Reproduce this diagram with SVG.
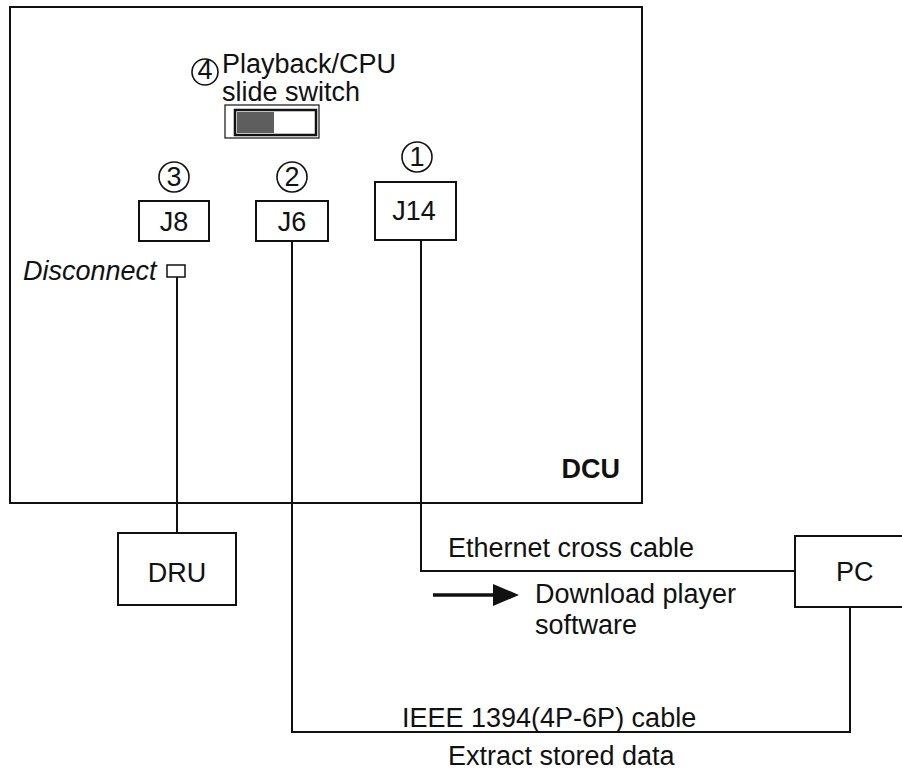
<svg xmlns="http://www.w3.org/2000/svg" width="902" height="770" viewBox="0 0 902 770">
<style>
.t{font-family:"Liberation Sans",Arial,sans-serif;font-size:27px;fill:#111}
.box{fill:#fff;stroke:#111;stroke-width:2}
.ln{fill:none;stroke:#111;stroke-width:2}
.c{fill:#fff;stroke:#111;stroke-width:1.6}
</style>
<rect width="902" height="770" fill="#fff"/>
<g id="dcu">
<rect class="box" x="10" y="7" width="632" height="496"/>
<text class="t" x="620" y="478" text-anchor="end" font-weight="bold" font-size="26">DCU</text>
</g>
<g id="switch">
<circle class="c" cx="205" cy="72" r="13"/>
<text class="t" x="205" y="79" text-anchor="middle" font-size="19">4</text>
<text class="t" x="222" y="73" font-size="23">Playback/CPU</text>
<text class="t" x="222" y="101" font-size="23">slide switch</text>
<rect x="225" y="105" width="94" height="33" fill="#fff" stroke="#111" stroke-width="1.2"/>
<rect x="235" y="110" width="81" height="25" fill="#fff" stroke="#111" stroke-width="2.5"/>
<rect x="237" y="112" width="37" height="21" fill="#5e5e5e"/>
</g>
<g id="j8">
<circle class="c" cx="174" cy="177" r="15"/>
<text class="t" x="174" y="186" text-anchor="middle" font-size="24">3</text>
<rect class="box" x="139" y="201" width="70" height="40"/>
<text class="t" x="174" y="231" text-anchor="middle" font-size="25">J8</text>
</g>
<g id="j6">
<circle class="c" cx="292" cy="177" r="15"/>
<text class="t" x="292" y="186" text-anchor="middle" font-size="24">2</text>
<rect class="box" x="256" y="201" width="72" height="40"/>
<text class="t" x="292" y="231" text-anchor="middle" font-size="25">J6</text>
</g>
<g id="j14">
<circle class="c" cx="417" cy="157" r="15"/>
<text class="t" x="417" y="166" text-anchor="middle" font-size="24">1</text>
<rect class="box" x="375" y="182" width="81" height="58"/>
<text class="t" x="414" y="220" text-anchor="middle" font-size="25">J14</text>
</g>
<g id="disconnect">
<text class="t" x="23" y="280" font-style="italic" font-size="26">Disconnect</text>
<rect x="167" y="265" width="18" height="12" fill="#fff" stroke="#111" stroke-width="1.5"/>
</g>
<g id="dru">
<rect class="box" x="118" y="533" width="118" height="72"/>
<text class="t" x="177" y="582" text-anchor="middle">DRU</text>
</g>
<g id="pc">
<rect class="box" x="795" y="536" width="120" height="71"/>
<text class="t" x="836" y="581">PC</text>
</g>
<g id="connectors">
<path class="ln" d="M177 277V533"/>
<path class="ln" d="M292 241V732H850V607"/>
<path class="ln" d="M421 240V571H795"/>
<path d="M433 595H496" stroke="#111" stroke-width="3.5" fill="none"/>
<polygon points="493,584 519,595 493,606" fill="#111"/>
</g>
<g id="labels">
<text class="t" x="448" y="557">Ethernet cross cable</text>
<text class="t" x="535" y="603">Download player</text>
<text class="t" x="535" y="634">software</text>
<text class="t" x="402" y="727">IEEE 1394(4P-6P) cable</text>
<text class="t" x="448" y="765">Extract stored data</text>
</g>
</svg>
